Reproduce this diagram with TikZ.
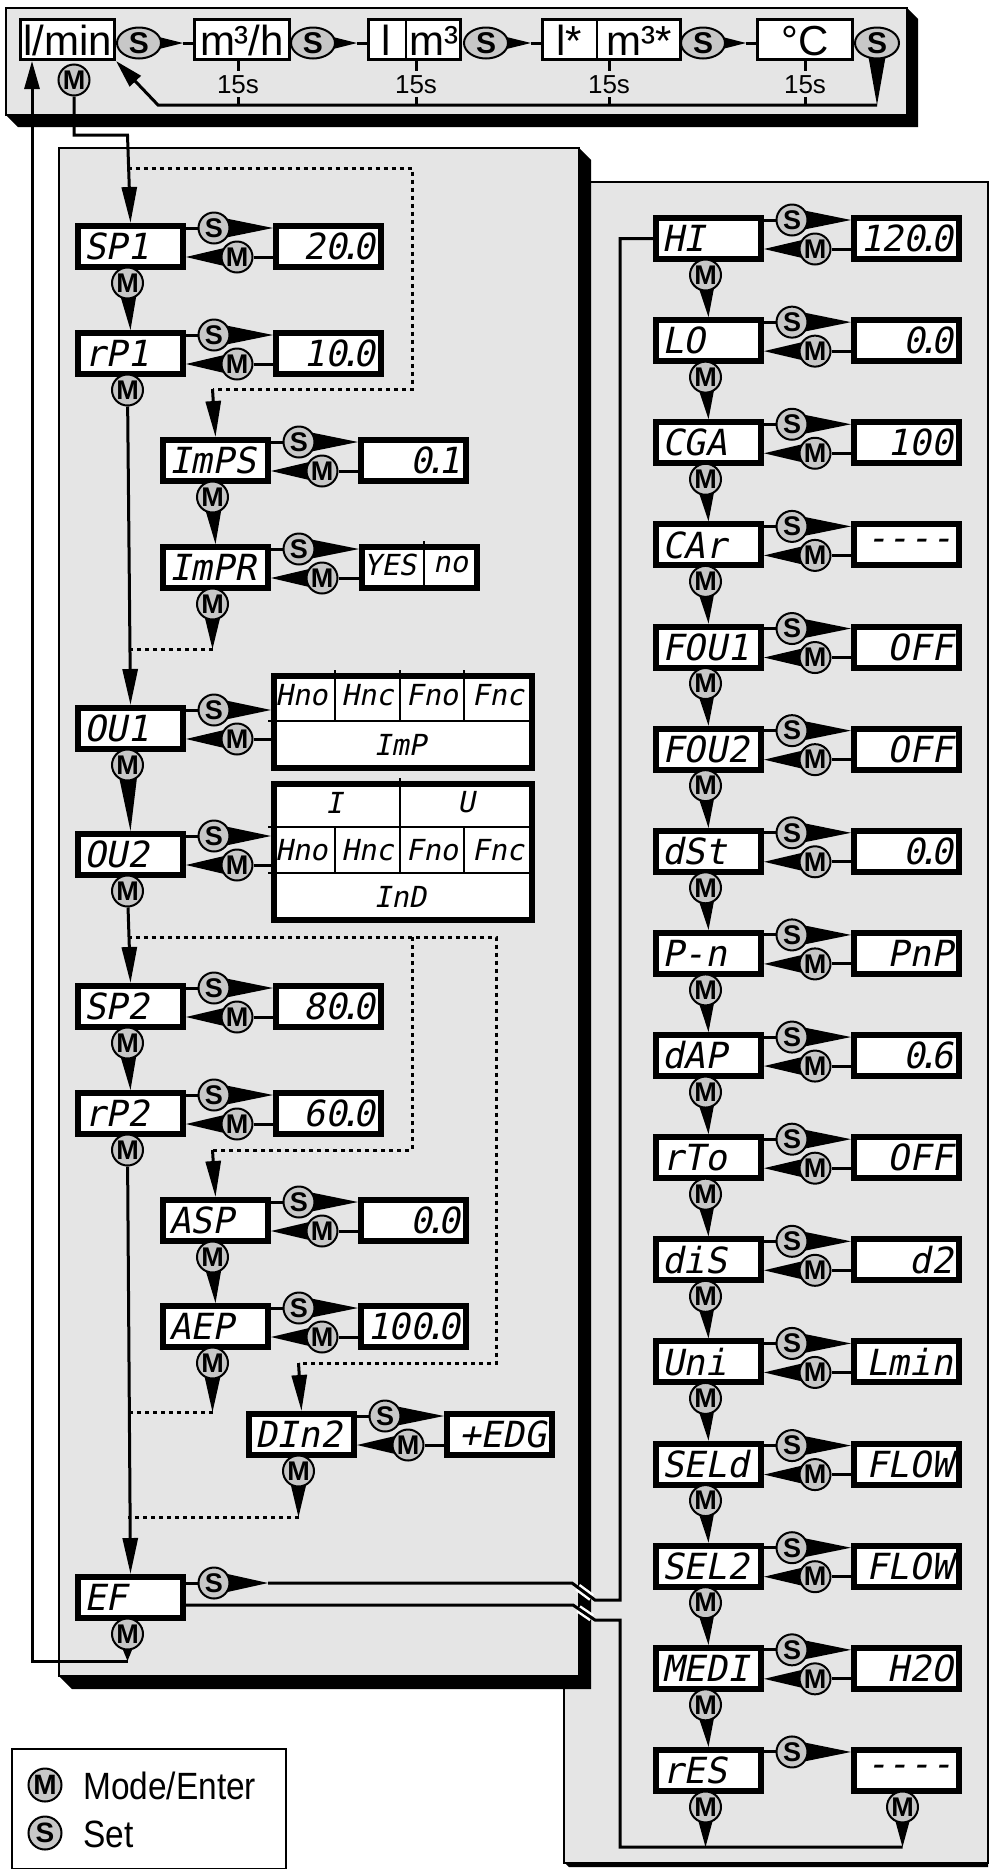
\documentclass[tikz,border=0pt]{standalone}
\usepackage{fontspec}
\setmainfont{Liberation Sans}
\newfontfamily\segfont[FakeSlant=0.2]{DejaVu Sans Mono}
\newfontfamily\narrowfont[FakeStretch=0.88]{Liberation Sans}
\usetikzlibrary{arrows.meta,calc,shapes.geometric}
\pgfdeclarelayer{back}
\pgfdeclarelayer{lines}
\pgfsetlayers{back,lines,main}
\definecolor{panelgray}{gray}{0.9}
\definecolor{btngray}{gray}{0.78}
\newcommand\dpt{\makebox[6pt]{.}}
\tikzset{
 conn/.style={line width=3pt},
 dotl/.style={line width=3pt, dash pattern=on 4pt off 4pt},
 arr/.style={-{Triangle[length=36pt,width=15pt]}},
 sarr/.style={-{Triangle[length=28pt,width=15pt]}},
 lcdname/.style={draw=black, line width=6pt, fill=white, inner xsep=6pt, inner ysep=0pt, text width=93pt, minimum height=41pt, align=left, anchor=north west, font=\segfont\fontsize{36}{38}\selectfont},
 lcdval/.style={lcdname, align=right},
 lcdbox/.style={draw=black, line width=6pt, fill=white, inner sep=0pt, anchor=north west},
 segsmall/.style={inner sep=0pt, font=\segfont\fontsize{29}{31}\selectfont},
 btn/.style={circle, draw=black, line width=2pt, fill=btngray, minimum size=31pt, inner sep=0pt, font=\bfseries\fontsize{27}{27}\selectfont},
 sell/.style={ellipse, draw=black, line width=2pt, fill=btngray, minimum width=44pt, minimum height=31pt, inner sep=0pt, font=\bfseries\fontsize{30}{30}\selectfont},
 topbox/.style={draw=black, line width=3pt, fill=white, inner sep=0pt, minimum height=40pt},
 toptext/.style={inner sep=0pt, anchor=base, font=\fontsize{42}{42}\selectfont},
 fifteen/.style={inner xsep=0pt, inner ysep=4pt, anchor=base, font=\fontsize{26}{26}\selectfont},
}
% name box + S button
\newcommand\pname[4]{%
 \node[lcdname] (#1) at ({#2+3},{#3+3}) {#4};
 \node[btn] (#1s) at ({#2+142},{#3+8}) {S};}
% return M button
\newcommand\pretm[3]{\node[btn] (#1m) at ({#2+165},{#3+37}) {M};}
\newcommand\slink[2]{%
 \begin{pgfonlayer}{lines}
 \draw[conn] (#1.east |- #1s) -- (#1s);
 \fill ($(#1s)+(0,-12)$) -- (#2.west |- #1s) -- ($(#1s)+(0,12)$) -- cycle;
 \end{pgfonlayer}}
\newcommand\mlink[2]{%
 \begin{pgfonlayer}{lines}
 \draw[conn] (#1m) -- (#2.west |- #1m);
 \fill ($(#1m)+(0,-12)$) -- (#1.east |- #1m) -- ($(#1m)+(0,12)$) -- cycle;
 \end{pgfonlayer}}
\newcommand\prow[5]{%
 \pname{#1}{#2}{#3}{#4}\pretm{#1}{#2}{#3}
 \node[lcdval] (#1v) at ({#2+201},{#3+3}) {#5};
 \slink{#1}{#1v}\mlink{#1}{#1v}}
\newcommand\mdown[3]{\node[btn] (#1d) at ({#2+55.5},{#3+63}) {M};}
\newcommand\wdown[2]{%
 \begin{pgfonlayer}{lines}
 \fill ($(#1)+(-11,0)$) -- (#2) -- ($(#1)+(11,0)$) -- cycle;
 \end{pgfonlayer}}
\newcommand\topS[2]{%
 \begin{pgfonlayer}{lines}
 \fill ($(#1)+(0,-11)$) -- ($(#2.west |- #1)+(-10,0)$) -- ($(#1)+(0,11)$) -- cycle;
 \draw[conn] ($(#2.west |- #1)+(-10,0)$) -- (#2.west |- #1);
 \end{pgfonlayer}}

\begin{document}
\begin{tikzpicture}[x=1pt,y=-1pt]
\useasboundingbox (0,0) rectangle (992,1869);

%================ panels
\begin{pgfonlayer}{back}
 \filldraw[fill=panelgray, draw=black, line width=2pt] (564,182) rectangle (988,1863);
 \fill (564,1862) -- (569,1867) -- (988,1867) -- (988,1862) -- cycle;
 \fill (579,148) -- (591,160) -- (591,1689) -- (72,1689) -- (59,1676) -- cycle;
 \filldraw[fill=panelgray, draw=black, line width=2pt] (59,148) rectangle (579,1676);
 \fill (907,8) -- (918,19) -- (918,127) -- (18,127) -- (6,115) -- cycle;
 \filldraw[fill=panelgray, draw=black, line width=2pt] (6,8) rectangle (907,115);
\end{pgfonlayer}

%================ top panel
\node[topbox, minimum width=94pt] (lmin) at (67.5,39.5) {};
\node[toptext] (lmint) at (67.5,55) {l/min};
\node[topbox, minimum width=95pt] (m3h) at (242,39.5) {};
\node[toptext] (m3ht) at (242,55) {m³/h};
\node[topbox, minimum width=92pt] (lm3) at (414.5,39.5) {};
\node[toptext] (lm3a) at (386.5,55) {l};
\node[toptext] (lm3b) at (434,55) {m³};
\draw[line width=2.5pt] (406,18) -- (406,61);
\node[topbox, minimum width=138pt] (lsm) at (611.5,39.5) {};
\node[toptext] (lsma) at (569,55) {l*};
\node[toptext] (lsmb) at (639.5,55) {m³*};
\draw[line width=2.5pt] (597,18) -- (597,61);
\node[topbox, minimum width=95pt] (degc) at (805,39.5) {};
\node[toptext] (degct) at (805,55) {°C};

\node[sell] (ts1) at (139,43) {S};
\node[sell] (ts2) at (313,43) {S};
\node[sell] (ts3) at (486,43) {S};
\node[sell] (ts4) at (703,43) {S};
\node[sell] (ts5) at (877,43) {S};
\topS{ts1}{m3h}
\topS{ts2}{lm3}
\topS{ts3}{lsm}
\topS{ts4}{degc}

\coordinate (r1) at (877,105);
\coordinate (r2) at (158,105);
\node[fifteen] (t1) at (238,93) {15s};
\node[fifteen] (t2) at (416,93) {15s};
\node[fifteen] (t3) at (609,93) {15s};
\node[fifteen] (t4) at (805,93) {15s};
\node[btn] (lminm) at (74,80) {M};

\begin{pgfonlayer}{lines}
 \fill ($(ts5)+(-11,0)$) -- (r1) -- ($(ts5)+(11,0)$) -- cycle;
 \draw[conn, sarr] (r1) -- (r2) -- (lmin.south east);
 \draw[conn] (t1 |- m3h.south) -- (t1.north);  \draw[conn] (t1.south) -- (t1 |- r1);
 \draw[conn] (t2 |- lm3.south) -- (t2.north);  \draw[conn] (t2.south) -- (t2 |- r1);
 \draw[conn] (t3 |- lsm.south) -- (t3.north);  \draw[conn] (t3.south) -- (t3 |- r1);
 \draw[conn] (t4 |- degc.south) -- (t4.north); \draw[conn] (t4.south) -- (t4 |- r1);
\end{pgfonlayer}

%================ left panel
\prow{sp1}{72}{220}{SP1}{20\dpt0\hspace*{16pt}}
\mdown{sp1}{72}{220}
\prow{rp1}{72}{327}{rP1}{10\dpt0\hspace*{16pt}}
\mdown{rp1}{72}{327}
\prow{imps}{157}{434}{ImPS}{0\dpt1\hspace*{6pt}}
\mdown{imps}{157}{434}

\pname{impr}{157}{541}{ImPR}\pretm{impr}{157}{541}
\node[lcdbox, minimum width=115pt, minimum height=41pt] (imprv) at (359,544) {};
\draw[line width=2.5pt] (424,541) -- (424,588);
\node[segsmall] (impry) at (390,564.5) {YES};
\node[segsmall] (imprn) at (450.5,564.5) {no};
\slink{impr}{imprv}\mlink{impr}{imprv}
\mdown{impr}{157}{541}

\pname{ou1}{72}{702}{OU1}\pretm{ou1}{72}{702}
\node[lcdbox, minimum width=258pt, minimum height=92pt] (ou1v) at (271,673) {};
\draw[line width=2.5pt] (268,721) -- (532,721);
\draw[line width=2.5pt] (335,670) -- (335,721) (400,670) -- (400,721) (464,670) -- (464,721);
\node[segsmall] (o1a) at (301.5,695.5) {Hno};
\node[segsmall] (o1b) at (367.5,695.5) {Hnc};
\node[segsmall] (o1c) at (432,695.5) {Fno};
\node[segsmall] (o1d) at (498,695.5) {Fnc};
\node[segsmall] (o1e) at (400,744.5) {ImP};
\slink{ou1}{ou1v}\mlink{ou1}{ou1v}
\mdown{ou1}{72}{702}

\pname{ou2}{72}{828}{OU2}\pretm{ou2}{72}{828}
\node[lcdbox, minimum width=258pt, minimum height=136pt] (ou2v) at (271,781) {};
\draw[line width=2.5pt] (268,827) -- (532,827) (268,873) -- (532,873);
\draw[line width=2.5pt] (400,778) -- (400,873) (335,827) -- (335,873) (464,827) -- (464,873);
\node[segsmall] (o2i) at (334,802.5) {I};
\node[segsmall] (o2u) at (466,802.5) {U};
\node[segsmall] (o2a) at (301.5,850) {Hno};
\node[segsmall] (o2b) at (367.5,850) {Hnc};
\node[segsmall] (o2c) at (432,850) {Fno};
\node[segsmall] (o2d) at (498,850) {Fnc};
\node[segsmall] (o2e) at (400,896.5) {InD};
\slink{ou2}{ou2v}\mlink{ou2}{ou2v}
\mdown{ou2}{72}{828}

\prow{sp2}{72}{980}{SP2}{80\dpt0\hspace*{16pt}}
\mdown{sp2}{72}{980}
\prow{rp2}{72}{1087}{rP2}{60\dpt0\hspace*{16pt}}
\mdown{rp2}{72}{1087}
\prow{asp}{157}{1194}{ASP}{0\dpt0\hspace*{10pt}}
\mdown{asp}{157}{1194}
\prow{aep}{157}{1300}{AEP}{100\dpt0\hspace*{10pt}}
\mdown{aep}{157}{1300}
\prow{din}{243}{1408}{DIn2}{+EDG\hspace*{4pt}}
\mdown{din}{243}{1408}

\node[lcdname] (ef) at (75,1574) {EF};
\node[btn] (efs) at (214,1583) {S};
\node[btn] (efd) at (127.5,1634) {M};

\coordinate (a1) at (127.5,135);
\coordinate (d1) at (127.5,168);
\coordinate (d2) at (412,168);
\coordinate (d3) at (412,389);
\coordinate (d4) at (212.5,389);
\coordinate (d5) at (212.5,649);
\coordinate (d6) at (127.5,937);
\coordinate (d7) at (412,937);
\coordinate (d8) at (496,937);
\coordinate (d9) at (496,1363);
\coordinate (d10) at (298.5,1363);
\coordinate (d11) at (412,1150);
\coordinate (d12) at (212.5,1150);
\coordinate (d13) at (212.5,1412);
\coordinate (d14) at (298.5,1517);
\coordinate (d15) at (127.5,1661);
\coordinate (l1) at (32,1661);

\wdown{sp1d}{rp1.north}
\wdown{impsd}{impr.north}
\wdown{imprd}{d5}
\wdown{ou1d}{ou2.north}
\wdown{sp2d}{rp2.north}
\wdown{aspd}{aep.north}
\wdown{aepd}{d13}
\wdown{dind}{d14}
\wdown{efd}{d15}

\begin{pgfonlayer}{lines}
 \draw[conn, arr] (lminm) -- (lminm |- a1) -- (a1) -- (sp1.north);
 \draw[dotl] (d1) -- (d2) -- (d3) -- (d4);
 \draw[conn, arr] (d4) -- (imps.north);
 \draw[conn, arr] (rp1d) -- (ou1.north);
 \draw[dotl] (d5) -- (d5 -| d1);
 \draw[conn, arr] (ou2d) -- (sp2.north);
 \draw[dotl] (d6) -- (d8) -- (d9) -- (d10);
 \draw[dotl] (d7) -- (d11) -- (d12);
 \draw[conn, arr] (d12) -- (asp.north);
 \draw[conn, arr] (d10) -- (din.north);
 \draw[conn, arr] (rp2d) -- (ef.north);
 \draw[dotl] (d13) -- (d13 -| d1);
 \draw[dotl] (d14) -- (d14 -| d1);
 \draw[conn, sarr] (d15) -- (l1) -- (l1 |- lmin.south);
\end{pgfonlayer}

%================ right panel
\foreach \i/\id/\nm/\val in {0/hi/HI/120\dpt0, 1/lo/LO/0\dpt0, 2/cga/CGA/100, 3/car/CAr/-{}-{}-{}-,
  4/fouA/FOU1/OFF, 5/fouB/FOU2/OFF, 6/dst/dSt/0\dpt0, 7/pn/P-n/PnP, 8/dap/dAP/0\dpt6,
  9/rto/rTo/OFF, 10/dis/diS/d2, 11/uni/Uni/Lmin, 12/seld/SELd/FLOW, 13/selz/SEL2/FLOW,
  14/medi/MEDI/H2O}{
 \pgfmathsetmacro\yy{212+102.13*\i}
 \prow{\id}{650}{\yy}{\nm}{\val}
 \mdown{\id}{650}{\yy}
}
\pgfmathsetmacro\yr{212+102.13*15}
\pname{res}{650}{\yr}{rES}
\node[lcdval] (resv) at (851,{\yr+3}) {-{}-{}-{}-};
\slink{res}{resv}
\mdown{res}{650}{\yr}
\node[btn] (resvd) at (902.5,{\yr+63}) {M};

\foreach \id/\nx in {hi/lo, lo/cga, cga/car, car/fouA, fouA/fouB, fouB/dst, dst/pn, pn/dap,
  dap/rto, rto/dis, dis/uni, uni/seld, seld/selz, selz/medi, medi/res}{
 \wdown{\id d}{\nx.north}
}

\coordinate (e1) at (268,1583);
\coordinate (e2) at (572,1583);
\coordinate (e3) at (595,1600);
\coordinate (e4) at (620,1600);
\coordinate (f1) at (573,1605);
\coordinate (f2) at (595,1620);
\coordinate (f3) at (620,1620);
\coordinate (f4) at (620,1847);

\wdown{resd}{resd |- f4}
\wdown{resvd}{resvd |- f4}

\begin{pgfonlayer}{lines}
 \draw[conn] (ef.east |- efs) -- (efs);
 \fill ($(efs)+(0,-12)$) -- (e1) -- ($(efs)+(0,12)$) -- cycle;
 \draw[white, line width=8pt] ($(e2)!0.25!(e3)$) -- ($(e2)!0.85!(e3)$);
 \draw[white, line width=8pt] ($(f1)!0.25!(f2)$) -- ($(f1)!0.85!(f2)$);
 \draw[conn] (e1) -- (e2) -- (e3) -- (e4) -- (e4 |- hi) -- (hi.west);
 \draw[conn] (ef.east |- f1) -- (f1) -- (f2) -- (f3) -- (f4) -- (resvd |- f4);
\end{pgfonlayer}

%================ legend
\node[draw=black, line width=2pt, anchor=north west, minimum width=274pt, minimum height=120pt, inner sep=0pt] (legend) at (11,1748) {};
\node[btn, minimum size=33pt, font=\bfseries\fontsize{28}{28}\selectfont] (lgm) at (45,1785) {M};
\node[btn, minimum size=33pt, font=\bfseries\fontsize{28}{28}\selectfont] (lgs) at (45,1833) {S};
\node[anchor=base west, inner sep=0pt, font=\narrowfont\fontsize{38}{38}\selectfont] (lgmt) at (83,1799) {Mode/Enter};
\node[anchor=base west, inner sep=0pt, font=\narrowfont\fontsize{38}{38}\selectfont] (lgst) at (83,1847) {Set};
\end{tikzpicture}
\end{document}
